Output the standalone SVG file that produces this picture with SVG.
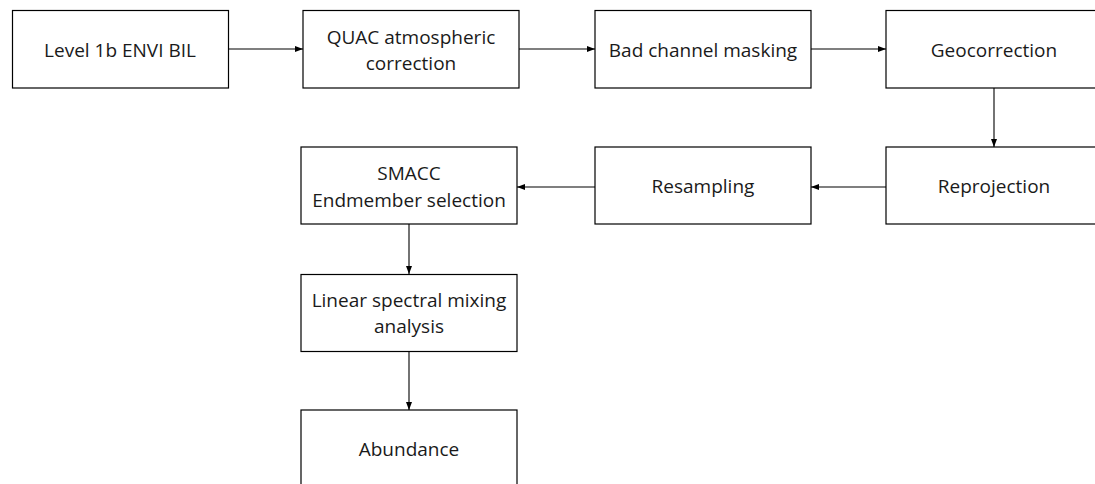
<svg xmlns="http://www.w3.org/2000/svg" width="1095" height="484" viewBox="0 0 1095 484">
<style>
.box{fill:#fff;stroke:#000;stroke-width:1.2}
.t{font-family:"Open Sans","Liberation Sans",sans-serif;font-size:19px;fill:#1a1a1a;text-anchor:middle}
.c{fill:none;stroke:#000;stroke-width:1.1}
</style>
<defs>
<marker id="ah" viewBox="0 0 8 6" refX="8" refY="3" markerWidth="8" markerHeight="6" markerUnits="userSpaceOnUse" orient="auto">
<path d="M0,0 L8,3 L0,6 Z" fill="#000"/>
</marker>
</defs>
<rect width="1095" height="484" fill="#fff"/>
<g id="connectors">
<line class="c" x1="228" y1="49" x2="303" y2="49" marker-end="url(#ah)"/>
<line class="c" x1="519" y1="49" x2="595" y2="49" marker-end="url(#ah)"/>
<line class="c" x1="811" y1="49" x2="886" y2="49" marker-end="url(#ah)"/>
<line class="c" x1="994" y1="88" x2="994" y2="147" marker-end="url(#ah)"/>
<line class="c" x1="886" y1="187" x2="811" y2="187" marker-end="url(#ah)"/>
<line class="c" x1="595" y1="187" x2="517" y2="187" marker-end="url(#ah)"/>
<line class="c" x1="409" y1="224" x2="409" y2="274" marker-end="url(#ah)"/>
<line class="c" x1="409" y1="352" x2="409" y2="410" marker-end="url(#ah)"/>
</g>
<g id="n1"><rect class="box" x="12.5" y="10.5" width="216" height="77.5"/><text class="t" x="120" y="57">Level 1b ENVI BIL</text></g>
<g id="n2"><rect class="box" x="303" y="10.5" width="216" height="77.5"/><text class="t" x="411" y="44">QUAC atmospheric</text><text class="t" x="411" y="70">correction</text></g>
<g id="n3"><rect class="box" x="595" y="10.5" width="216" height="77.5"/><text class="t" x="703" y="57">Bad channel masking</text></g>
<g id="n4"><rect class="box" x="886" y="10.5" width="216" height="77.5"/><text class="t" x="994" y="57">Geocorrection</text></g>
<g id="n5"><rect class="box" x="886" y="147" width="216" height="77"/><text class="t" x="994" y="193">Reprojection</text></g>
<g id="n6"><rect class="box" x="595" y="147" width="216" height="77"/><text class="t" x="703" y="193">Resampling</text></g>
<g id="n7"><rect class="box" x="301" y="147" width="216" height="77"/><text class="t" x="409" y="180">SMACC</text><text class="t" x="409" y="207">Endmember selection</text></g>
<g id="n8"><rect class="box" x="301" y="274.5" width="216" height="77"/><text class="t" x="409" y="307">Linear spectral mixing</text><text class="t" x="409" y="333">analysis</text></g>
<g id="n9"><rect class="box" x="301" y="410" width="216" height="90"/><text class="t" x="409" y="456">Abundance</text></g>
</svg>
